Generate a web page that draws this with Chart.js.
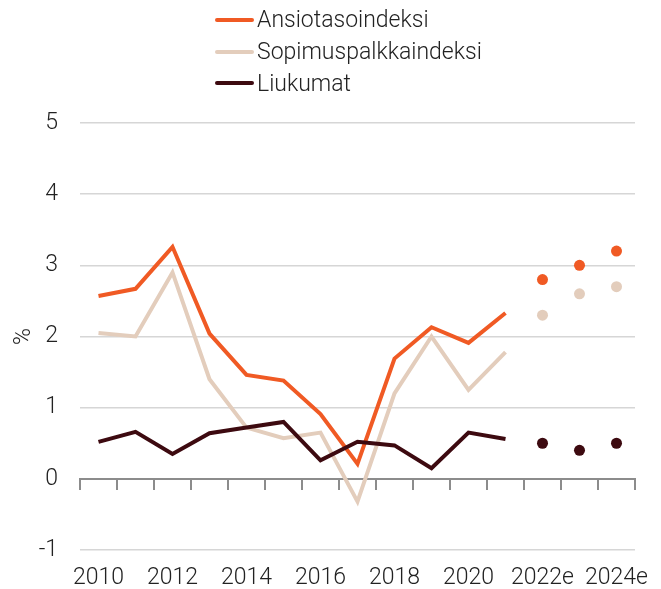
<!DOCTYPE html>
<html>
<head>
<meta charset="utf-8">
<script src="https://cdn.jsdelivr.net/npm/chart.js@4/dist/chart.umd.min.js"></script>
<style>
  html, body { margin: 0; padding: 0; background: #fff; }
  #wrap { position: relative; width: 661px; height: 589px; }
  #legend { position: absolute; left: 215px; top: 4px; font-family: Roboto, sans-serif; font-weight: 300; font-size: 23px; color: #222; }
  .item { display: flex; align-items: center; height: 31.8px; }
  .swatch { width: 39px; height: 4px; border-radius: 2px; margin-right: 3px; }
</style>
</head>
<body>
<div id="wrap">
  <canvas id="myChart" width="661" height="589"></canvas>
  <div id="legend"></div>
</div>
<script>
// years, e = estimate
var years = ['2010', '2011', '2012', '2013', '2014', '2015', '2016', '2017', '2018', '2019', '2020', '2021', '2022e', '2023e', '2024e'];

// toteutunut 2010-2021
var ansiotaso = [2.57, 2.67, 3.26, 2.04, 1.46, 1.38, 0.91, 0.21, 1.69, 2.13, 1.91, 2.33, null, null, null];
var sopimus = [2.05, 2.0, 2.9, 1.4, 0.72, 0.57, 0.65, -0.32, 1.2, 2.0, 1.25, 1.78, null, null, null];
var liukumat = [0.52, 0.66, 0.35, 0.64, 0.72, 0.8, 0.26, 0.52, 0.47, 0.15, 0.65, 0.56, null, null, null];

// ennusteet 2022e-2024e
var ansiotasoEnnuste = [null, null, null, null, null, null, null, null, null, null, null, null, 2.8, 3.0, 3.2];
var sopimusEnnuste = [null, null, null, null, null, null, null, null, null, null, null, null, 2.3, 2.6, 2.7];
var liukumatEnnuste = [null, null, null, null, null, null, null, null, null, null, null, null, 0.5, 0.4, 0.5];

var seriesNames = ['Ansiotasoindeksi', 'Sopimuspalkkaindeksi', 'Liukumat'];
var colors = ['#f05a24', '#e3cdbc', '#3d0a10'];

var yTicks = [-1, 0, 1, 2, 3, 4, 5];

var font = { family: 'Roboto', weight: 300, size: 23, lineHeight: 1 };

function lineSet(i, data) {
    return {
        label: seriesNames[i],
        data: data,
        borderColor: colors[i],
        backgroundColor: colors[i],
        borderWidth: 4,
        pointRadius: 0,
        tension: 0,
        spanGaps: false,
        order: 3 - i
    };
}

function dotSet(i, data) {
    return {
        label: seriesNames[i] + ' (e)',
        data: data,
        showLine: false,
        borderColor: colors[i],
        backgroundColor: colors[i],
        pointRadius: 5.5,
        pointBorderWidth: 0,
        order: 3 - i
    };
}

// legend in html, one row per series
var legendDiv = document.getElementById('legend');
seriesNames.forEach(function (name, i) {
    var row = document.createElement('div');
    row.className = 'item';
    row.innerHTML = '<span class="swatch" style="background:' + colors[i] + '"></span>' + name;
    legendDiv.appendChild(row);
});

new Chart('myChart', {
    type: 'line',
    data: {
        labels: years,
        datasets: [
            lineSet(0, ansiotaso),
            lineSet(1, sopimus),
            lineSet(2, liukumat),
            dotSet(0, ansiotasoEnnuste),
            dotSet(1, sopimusEnnuste),
            dotSet(2, liukumatEnnuste)
        ]
    },
    options: {
        responsive: false,
        animation: false,
        layout: { padding: { top: 123, right: 26, bottom: 0, left: 10 } },
        plugins: {
            legend: { display: false },
            tooltip: { enabled: false }
        },
        scales: {
            x: {
                type: 'category',
                offset: true,
                grid: { display: false, drawTicks: false },
                border: { display: false },
                ticks: {
                    autoSkip: false,
                    maxRotation: 0,
                    padding: 17,
                    color: '#222',
                    font: font,
                    callback: function (v, i) { return i % 2 === 0 ? years[i] : ''; }
                },
                afterFit: function (scale) {
                    scale.height = 39;
                    // let the last label hang over the edge
                    scale.paddingLeft = 0;
                    scale.paddingRight = 0;
                }
            },
            // nollaviiva tickeineen
            x0: {
                type: 'category',
                labels: years,
                offset: true,
                position: { y: 0 },
                grid: { drawOnChartArea: false, drawTicks: true, tickLength: 10, color: '#8c8c8c', lineWidth: 2, offset: true },
                border: { color: '#8c8c8c', width: 2 },
                ticks: { display: false },
                afterFit: function (scale) { scale.height = 0; }
            },
            y: {
                min: -1,
                max: 5,
                afterBuildTicks: function (scale) {
                    scale.ticks = yTicks.map(function (v) { return { value: v }; });
                },
                afterFit: function (scale) { scale.width = 70; },
                grid: { color: '#d6d6d6', lineWidth: 1.5, drawTicks: false },
                border: { display: false },
                ticks: { padding: 22, color: '#222', font: font },
                title: { display: true, text: '%', color: '#222', font: { family: 'Roboto', weight: 300, size: 23 }, padding: 0 }
            }
        }
    }
});
</script>
</body>
</html>
